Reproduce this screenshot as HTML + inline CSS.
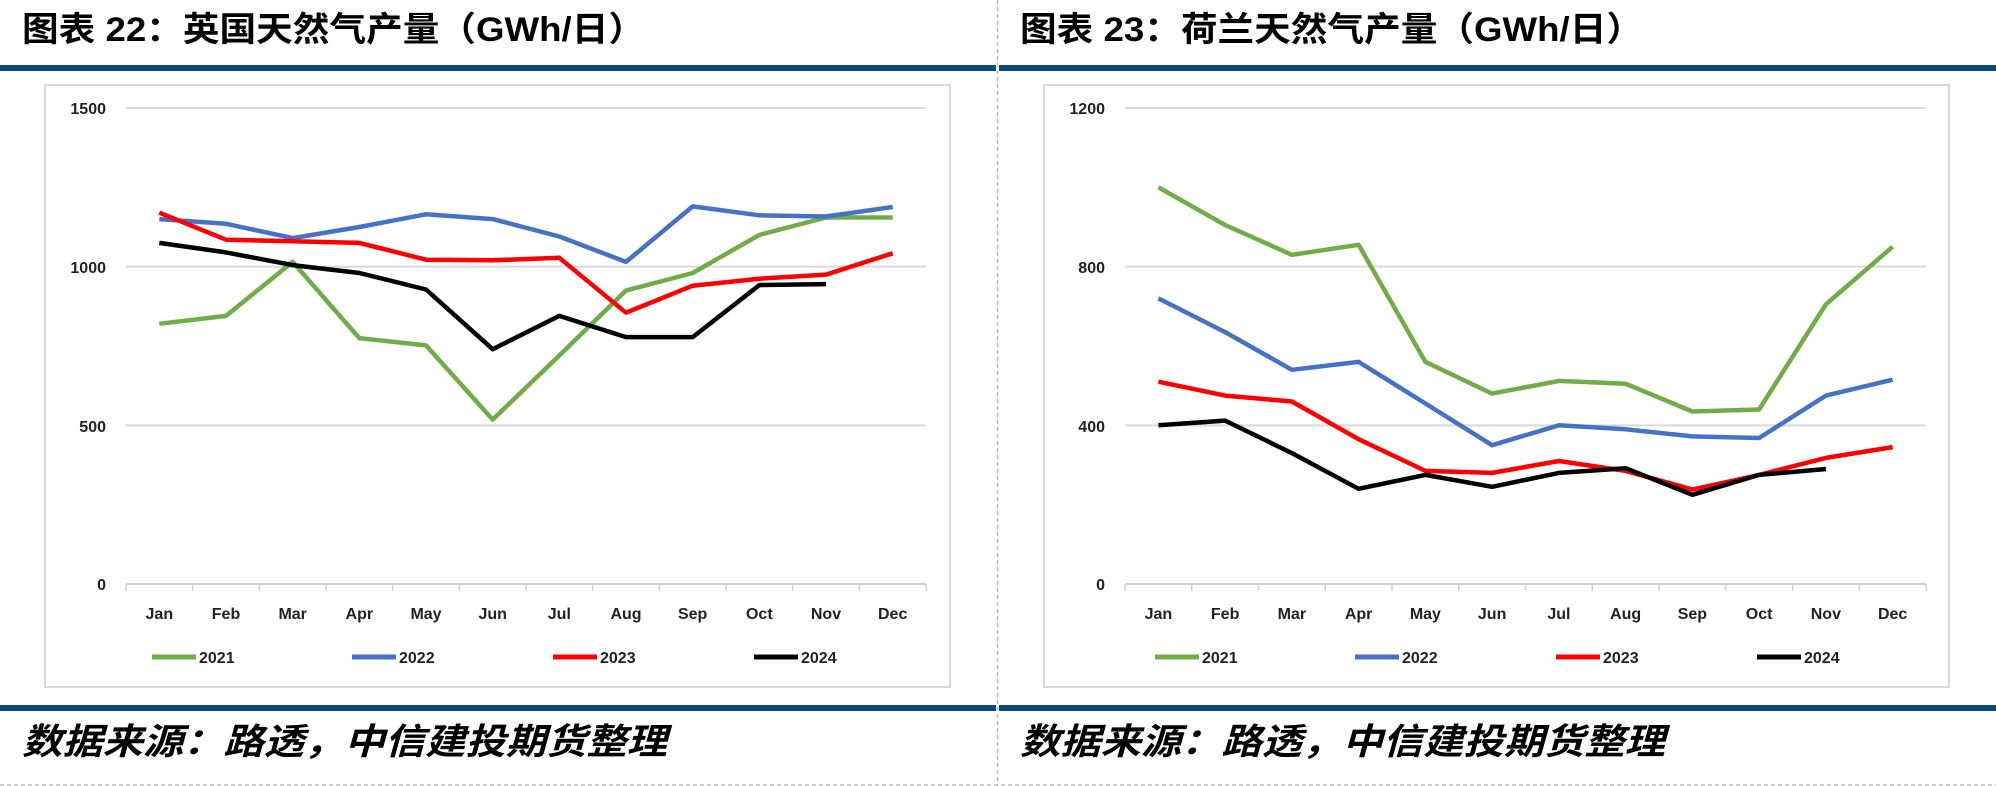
<!DOCTYPE html>
<html><head><meta charset="utf-8">
<style>
html,body{margin:0;padding:0;background:#fff;}
svg{display:block;}
.t{font-family:"Liberation Sans","Noto Sans CJK SC",sans-serif;font-weight:bold;font-size:34px;fill:#000;}
.f{font-family:"Liberation Sans","Noto Sans CJK SC",sans-serif;font-weight:bold;font-style:italic;font-size:36px;fill:#000;}
.a{font-family:"Liberation Sans",sans-serif;font-weight:bold;font-size:16px;fill:#222;}
</style></head>
<body>
<svg id="s" width="1996" height="786" viewBox="0 0 1996 786" xmlns="http://www.w3.org/2000/svg">
<rect width="1996" height="786" fill="#fff"/>
<line x1="997.5" y1="0" x2="997.5" y2="786" stroke="#bbb" stroke-width="1.5" stroke-dasharray="4,3"/>
<line x1="0" y1="785" x2="1996" y2="785" stroke="#bbb" stroke-width="1.5" stroke-dasharray="4,3"/>
<rect x="0" y="65" width="996" height="6" fill="#0b4a7a"/>
<rect x="999" y="65" width="997" height="6" fill="#0b4a7a"/>
<rect x="0" y="705" width="996" height="6" fill="#0b4a7a"/>
<rect x="999" y="705" width="997" height="6" fill="#0b4a7a"/>
<text class="t" x="22" y="41" textLength="623" lengthAdjust="spacingAndGlyphs">图表 22：英国天然气产量（GWh/日）</text>
<text class="t" x="1020" y="41" textLength="623" lengthAdjust="spacingAndGlyphs">图表 23：荷兰天然气产量（GWh/日）</text>
<text class="f" x="22" y="754" textLength="645" lengthAdjust="spacingAndGlyphs">数据来源：路透，中信建投期货整理</text>
<text class="f" x="1020" y="754" textLength="645" lengthAdjust="spacingAndGlyphs">数据来源：路透，中信建投期货整理</text>
<rect x="45" y="85" width="905" height="602" fill="none" stroke="#d9d9d9" stroke-width="2"/>
<rect x="1044" y="85" width="905" height="602" fill="none" stroke="#d9d9d9" stroke-width="2"/>
<g class="a" text-anchor="end">
<text x="106" y="114">1500</text><text x="106" y="273">1000</text><text x="106" y="432">500</text><text x="106" y="590">0</text>
<text x="1105" y="114">1200</text><text x="1105" y="273">800</text><text x="1105" y="432">400</text><text x="1105" y="590">0</text>
</g>
<g class="a" text-anchor="middle" id="months"></g>
<g id="g"></g>
<g class="a">
<line x1="152" y1="657" x2="196" y2="657" stroke="#70ad47" stroke-width="5"/><text x="199" y="663">2021</text>
<line x1="352" y1="657" x2="396" y2="657" stroke="#4472c4" stroke-width="5"/><text x="399" y="663">2022</text>
<line x1="553" y1="657" x2="597" y2="657" stroke="#ff0000" stroke-width="5"/><text x="600" y="663">2023</text>
<line x1="754" y1="657" x2="798" y2="657" stroke="#000" stroke-width="5"/><text x="801" y="663">2024</text>
<line x1="1155" y1="657" x2="1199" y2="657" stroke="#70ad47" stroke-width="5"/><text x="1202" y="663">2021</text>
<line x1="1355" y1="657" x2="1399" y2="657" stroke="#4472c4" stroke-width="5"/><text x="1402" y="663">2022</text>
<line x1="1556" y1="657" x2="1600" y2="657" stroke="#ff0000" stroke-width="5"/><text x="1603" y="663">2023</text>
<line x1="1757" y1="657" x2="1801" y2="657" stroke="#000" stroke-width="5"/><text x="1804" y="663">2024</text>
</g>
</svg>
<script>
var NS="http://www.w3.org/2000/svg",g=document.getElementById("g"),mg=document.getElementById("months");
var M=["Jan","Feb","Mar","Apr","May","Jun","Jul","Aug","Sep","Oct","Nov","Dec"];
var cols=["#70ad47","#4472c4","#ff0000","#000000"];
function el(n,a,p){var e=document.createElementNS(NS,n);for(var k in a)e.setAttribute(k,a[k]);(p||g).appendChild(e);return e;}
function chart(x0,x1,max,grid,data){
 var y0=584,yt=108,w=(x1-x0)/12;
 grid.forEach(function(v){var y=y0-(v/max)*(y0-yt);el("line",{x1:x0,x2:x1,y1:y,y2:y,stroke:v==0?"#d0d0d0":"#d9d9d9","stroke-width":2});});
 for(var i=0;i<=12;i++){el("line",{x1:x0+i*w,x2:x0+i*w,y1:y0,y2:y0+7,stroke:"#d0d0d0","stroke-width":1.5});}
 for(var i=0;i<12;i++){var t=el("text",{x:x0+(i+0.5)*w,y:619},mg);t.textContent=M[i];}
 data.forEach(function(d,k){var p=d.map(function(v,i){return (x0+(i+0.5)*w).toFixed(1)+","+(y0-(v/max)*(y0-yt)).toFixed(1);}).join(" ");
  el("polyline",{points:p,fill:"none",stroke:cols[k],"stroke-width":4.5,"stroke-linejoin":"round"});});
}
chart(126,926,1500,[0,500,1000,1500],[
[820,845,1015,775,752,518,720,925,980,1100,1155,1155],
[1150,1135,1090,1125,1165,1150,1095,1015,1190,1162,1158,1188],
[1170,1085,1080,1075,1022,1020,1028,855,940,962,975,1042],
[1075,1045,1005,980,928,740,845,778,778,942,945]]);
chart(1125,1926,1200,[0,400,800,1200],[
[1000,905,830,855,560,480,512,505,435,440,705,850],
[720,635,540,560,455,350,400,390,372,368,475,515],
[510,475,460,365,285,280,310,285,238,275,318,345],
[400,412,330,240,275,245,280,292,225,275,290]]);
</script>
</body></html>
